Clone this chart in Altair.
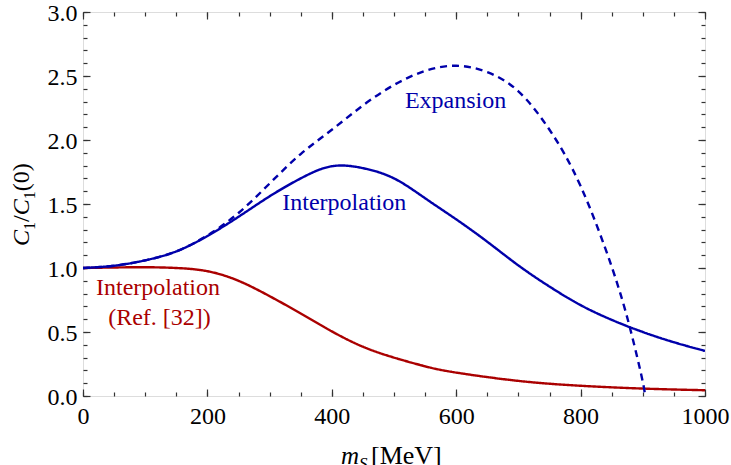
import altair as alt
import pandas as pd

# ---- data ----
m_interp = [0, 50, 100, 150, 200, 250, 300, 350, 400, 450, 500, 550, 600,
            650, 700, 750, 800, 850, 900, 950, 1000]
c_interp = [1.0, 1.018, 1.06, 1.13, 1.25, 1.40, 1.56, 1.70, 1.795, 1.78,
            1.70, 1.545, 1.38, 1.205, 1.02, 0.855, 0.71, 0.595, 0.50, 0.42, 0.352]

m_exp = [0, 50, 100, 150, 200, 250, 300, 350, 400, 450, 500, 550, 600, 650,
         700, 750, 800, 850, 880, 900, 903]
c_exp = [1.0, 1.018, 1.06, 1.13, 1.255, 1.43, 1.66, 1.89, 2.08, 2.27, 2.43, 2.54,
         2.58, 2.53, 2.38, 2.08, 1.64, 1.01, 0.52, 0.11, 0.0]

m_ref = [0, 50, 100, 150, 200, 250, 300, 350, 400, 450, 500, 550, 600, 700,
         800, 900, 1000]
c_ref = [1.0, 1.004, 1.006, 1.0, 0.975, 0.90, 0.78, 0.645, 0.505, 0.385, 0.30,
         0.232, 0.183, 0.118, 0.08, 0.058, 0.045]

x_major = [0, 200, 400, 600, 800, 1000]
x_minor = list(range(0, 1001, 50))
y_major = [0.0, 0.5, 1.0, 1.5, 2.0, 2.5, 3.0]
y_minor = [round(i * 0.1, 1) for i in range(31)]

ann_text = ["Expansion", "Interpolation", "Interpolation", "(Ref. [32])"]
ann_m = [599, 420, 120.6, 123]
ann_c = [2.249, 1.453, 0.788, 0.553]
ann_grp = ["blue", "blue", "red", "red"]

BLUE = "#0000aa"
RED = "#aa0000"
FONT = "Liberation Serif"
W, H = 622, 384
FRAME = "#333333"

df_i = pd.DataFrame({"m": m_interp, "c": c_interp})
df_e = pd.DataFrame({"m": m_exp, "c": c_exp})
df_r = pd.DataFrame({"m": m_ref, "c": c_ref})
df_a = pd.DataFrame({"m": ann_m, "c": ann_c, "t": ann_text, "g": ann_grp})
one = pd.DataFrame({"a": [0]})

xs = alt.Scale(domain=[0, 1000], nice=False, zero=False)
ys = alt.Scale(domain=[0, 3], nice=False, zero=False)


def line(df, color, dash):
    return alt.Chart(df).mark_line(color=color, strokeWidth=2.4, strokeDash=dash,
                                   interpolate="natural", clip=True).encode(
        x=alt.X("m:Q", scale=xs, axis=None),
        y=alt.Y("c:Q", scale=ys, axis=None),
    )


# labelled axes (ticks drawn separately, pointing inward)
label_layer = alt.Chart(df_i).mark_point(opacity=0).encode(
    x=alt.X("m:Q", scale=xs, axis=alt.Axis(
        orient="bottom", values=x_major, format="d", ticks=False, domain=False,
        grid=False, labelFont=FONT, labelFontSize=24, labelColor="black",
        labelPadding=8, labelFlush=False, labelOverlap=False, title=None)),
    y=alt.Y("c:Q", scale=ys, axis=alt.Axis(
        orient="left", values=y_major, format=".1f", ticks=False, domain=False,
        grid=False, labelFont=FONT, labelFontSize=24, labelColor="black",
        labelPadding=6, labelOffset=1.5, labelFlush=False, labelOverlap=False,
        title=None)),
)


def tick_layer(xorient, yorient, xvals, yvals, size):
    return alt.Chart(df_i).mark_point(opacity=0).encode(
        x=alt.X("m:Q", scale=xs, axis=alt.Axis(
            orient=xorient, offset=-H, values=xvals, tickSize=size, tickWidth=1.2,
            tickColor=FRAME, labels=False, domain=False, grid=False, title=None)),
        y=alt.Y("c:Q", scale=ys, axis=alt.Axis(
            orient=yorient, offset=-W, values=yvals, tickSize=size, tickWidth=1.2,
            tickColor=FRAME, labels=False, domain=False, grid=False, title=None)),
    )


ticks = [
    tick_layer("top", "right", x_major, y_major, 7),
    tick_layer("top", "right", x_minor, y_minor, 4),
    tick_layer("bottom", "left", x_major, y_major, 7),
    tick_layer("bottom", "left", x_minor, y_minor, 4),
]

ann = alt.Chart(df_a).mark_text(font=FONT, fontSize=24, align="center",
                                baseline="alphabetic").encode(
    x=alt.X("m:Q", scale=xs, axis=None),
    y=alt.Y("c:Q", scale=ys, axis=None),
    text="t:N",
    color=alt.Color("g:N", scale=alt.Scale(domain=["blue", "red"], range=[BLUE, RED]),
                    legend=None),
)


def seg(text, x, y, size, italic, angle=0):
    kw = dict(text=text, font=FONT, fontSize=size, align="left",
              baseline="alphabetic", color="black")
    if italic:
        kw["fontStyle"] = "italic"
    if angle:
        kw["angle"] = angle
    return alt.Chart(one).mark_text(**kw).encode(x=alt.value(x), y=alt.value(y))


# y title: C_1 / C_1 (0), rotated
ytitle = [
    seg("C", -54, 234, 24, True, 270),
    seg("1", -48, 218, 16, False, 270),
    seg("/", -54, 210, 24, False, 270),
    seg("C", -54, 203.3, 24, True, 270),
    seg("1", -48, 187.3, 16, False, 270),
    seg("(0)", -54, 179.3, 24, False, 270),
]
# x title: m_S [MeV]
xtitle = [
    seg("m", 258, 452, 25, True),
    seg("S", 276, 457, 17, True),
    seg("[MeV]", 288, 452, 26, False),
]

chart = alt.layer(
    label_layer, *ticks,
    line(df_r, RED, [1, 0]),
    line(df_e, BLUE, [7, 5]),
    line(df_i, BLUE, [1, 0]),
    ann, *ytitle, *xtitle,
).resolve_axis(x="independent", y="independent").properties(
    width=W, height=H,
    autosize=alt.AutoSizeParams(type="none"),
    padding={"left": 83, "top": 12, "right": 26, "bottom": 69},
).configure_view(stroke=FRAME, strokeWidth=1.6).configure(background="white")

chart.save("out.html", embed_options={"renderer": "svg", "actions": False})
